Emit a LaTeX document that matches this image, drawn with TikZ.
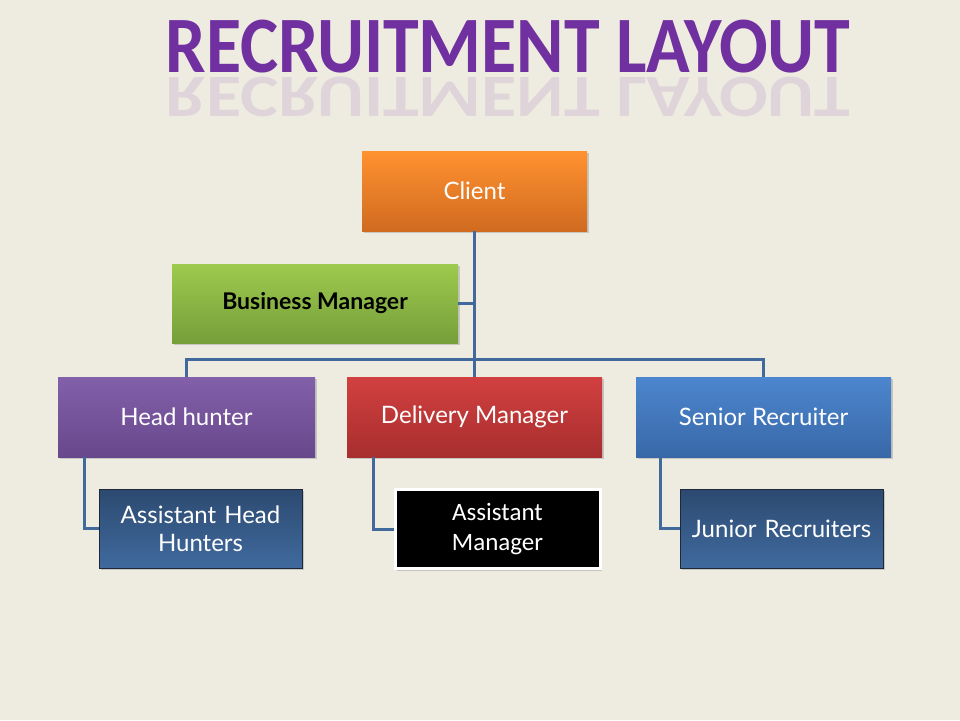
\documentclass[tikz,border=0pt]{standalone}
\usepackage{fontspec}
\setmainfont{Lato}
\newfontfamily\gillfont{Lato}
\newfontfamily\calfont{Carlito}
\usetikzlibrary{shadows}
\definecolor{bgc}{HTML}{EEEBE1}
\definecolor{linec}{HTML}{41699B}
\definecolor{titlec}{HTML}{7030A0}
\tikzset{
  box/.style={rectangle, minimum height=80pt, inner sep=4pt, align=center, text=white,
     font=\gillfont\fontsize{24}{28}\selectfont,
     drop shadow={shadow xshift=1.5pt, shadow yshift=-2pt, opacity=0.35}},
  orangebox/.style={box, top color={rgb,255:red,255;green,146;blue,48}, bottom color={rgb,255:red,208;green,106;blue,32}},
  greenbox/.style={box, top color={rgb,255:red,158;green,202;blue,78}, bottom color={rgb,255:red,118;green,158;blue,58}, text=black, font=\gillfont\bfseries\fontsize{23}{28}\selectfont},
  purplebox/.style={box, top color={rgb,255:red,130;green,96;blue,170}, bottom color={rgb,255:red,104;green,72;blue,140}},
  redbox/.style={box, top color={rgb,255:red,210;green,64;blue,64}, bottom color={rgb,255:red,168;green,46;blue,46}},
  bluebox/.style={box, top color={rgb,255:red,76;green,134;blue,206}, bottom color={rgb,255:red,56;green,104;blue,168}},
  darkbox/.style={box, minimum height=79pt, top color={rgb,255:red,44;green,74;blue,112}, bottom color={rgb,255:red,64;green,106;blue,158}, draw={rgb,255:red,30;green,40;blue,55}, line width=1pt},
  blackbox/.style={box, minimum height=79pt, fill=black, draw=white, line width=3pt, font=\calfont\fontsize{25}{30}\selectfont},
  titlefont/.style={font=\calfont\bfseries\fontsize{80}{90}\selectfont, text=titlec},
  conn/.style={draw=linec, line width=3pt}
}
\begin{document}
\begin{tikzpicture}[x=1pt,y=-1pt]
\fill[bgc] (0,0) rectangle (960,720);
\useasboundingbox (0,0) rectangle (960,720);
% title
\node[anchor=base, titlefont] (title) at (508,72) {\scalebox{0.9}[1]{RECRUITMENT LAYOUT}};
\begin{scope}[shift={(508,77)}, yscale=-0.75, transform shape]
\node[anchor=base, titlefont, opacity=0.12] (titlerefl) at (0,0) {\scalebox{0.9}[1]{RECRUITMENT LAYOUT}};
\end{scope}
\coordinate (bus) at (474.5,359);
% nodes
\node[orangebox, minimum width=225pt] (client) at (474.5,191) {Client};
\node[greenbox, minimum width=286pt, minimum height=79pt] (bm) at (315,303.5) {Business Manager};
\node[purplebox, minimum width=257pt] (hh) at (186.5,417) {Head hunter};
\node[redbox, minimum width=255pt] (dm) at (474.5,417) {Delivery Manager};
\node[bluebox, minimum width=255pt] (sr) at (763.5,417) {Senior Recruiter};
\node[darkbox, minimum width=203pt, text width=190pt] (ahh) at (200.5,528.5) {Assistant Head\\[0pt]Hunters};
\node[blackbox, minimum width=205pt, text width=190pt] (am) at (497.5,529) {Assistant\\[0pt]Manager};
\node[darkbox, minimum width=203pt, text width=190pt] (jr) at (781.5,528.5) {Junior Recruiters};
% connectors
\coordinate (hhc) at ([xshift=27pt]hh.south west);
\coordinate (dmc) at ([xshift=27pt]dm.south west);
\coordinate (src) at ([xshift=25pt]sr.south west);
\path[conn] (client.south) -- (dm.north);
\path[conn] (bm.east) -- (client.south |- bm.east);
\path[conn] (hh.north) |- (bus) -| (sr.north);
\path[conn] (hhc) |- (ahh.west);
\path[conn] (dmc) |- (am.west);
\path[conn] (src) |- (jr.west);
\end{tikzpicture}
\end{document}
